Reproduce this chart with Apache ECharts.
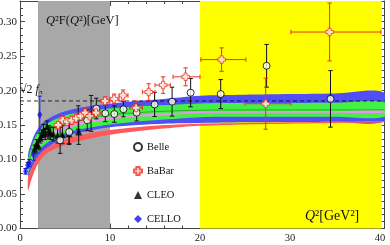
<!DOCTYPE html>
<html><head><meta charset="utf-8">
<script src="https://cdn.jsdelivr.net/npm/echarts@6/dist/echarts.min.js"></script>
<style>html,body{margin:0;padding:0;background:#fff}#c{width:390px;height:245px}</style>
</head><body><div id="c"></div>
<script>
// ---- axis setup ----
const xMin = 0, xMax = 40.5, yMin = 0, yMax = 0.33;
const grayRegion = [2, 10];
const yellowRegion = [20, 40.2];
const fpiLine = 0.185;

// ---- theory bands ----
const bandQ2   = [0.9, 1.2, 1.6, 2, 2.5, 3, 4, 5, 6, 8, 10, 13, 16, 20, 25, 30, 35, 40.5];
const blueHi   = [0.108,0.122,0.136,0.145,0.153,0.158,0.165,0.170,0.1735,0.178,0.181,0.185,0.188,0.1925,0.194,0.195,0.196,0.197];
const blueLo   = [0.075,0.085,0.095,0.103,0.111,0.117,0.126,0.132,0.137,0.143,0.147,0.150,0.152,0.153,0.154,0.1545,0.155,0.1558];
const redHi    = [0.075,0.085,0.097,0.105,0.112,0.117,0.124,0.129,0.133,0.139,0.143,0.147,0.150,0.152,0.153,0.154,0.155,0.156];
const redLo    = [0.055,0.068,0.083,0.094,0.103,0.109,0.116,0.121,0.125,0.131,0.136,0.141,0.145,0.149,0.151,0.152,0.153,0.154];
const greenHi  = [0.100,0.115,0.130,0.139,0.147,0.152,0.159,0.164,0.167,0.171,0.174,0.177,0.179,0.1815,0.182,0.1822,0.1825,0.183];
const greenLo  = [0.080,0.092,0.103,0.111,0.119,0.124,0.132,0.138,0.142,0.147,0.151,0.155,0.158,0.1615,0.162,0.162,0.162,0.162];
const pinkHi   = [0.090,0.102,0.114,0.122,0.130,0.135,0.143,0.149,0.153,0.158,0.162,0.165,0.167,0.1698,0.170,0.1703,0.1705,0.171];
const pinkLo   = [0.085,0.097,0.109,0.117,0.125,0.130,0.138,0.144,0.148,0.154,0.158,0.162,0.164,0.1675,0.168,0.168,0.168,0.168];
const midLine  = [0.094,0.106,0.118,0.126,0.134,0.139,0.147,0.152,0.156,0.161,0.165,0.168,0.170,0.1715,0.172,0.172,0.172,0.1722];

// ---- data: Belle ----
const belleQ2  = [4.46, 5.47, 6.47, 7.47, 8.48, 9.48, 10.48, 11.49, 12.96, 14.96, 16.9, 18.96, 22.3, 27.4, 34.5];
const belleF   = [0.128, 0.140, 0.161, 0.157, 0.174, 0.167, 0.166, 0.173, 0.168, 0.180, 0.184, 0.197, 0.195, 0.236, 0.188];
const belleErr = [0.019, 0.017, 0.017, 0.015, 0.015, 0.012, 0.012, 0.011, 0.012, 0.0175, 0.021, 0.0205, 0.021, 0.031, 0.041];

// ---- data: BaBar ----
const babarQ2   = [4.24, 4.74, 5.24, 5.74, 6.24, 6.74, 7.24, 7.74, 8.45, 9.45, 10.45, 11.45, 12.9, 14.3, 15.9, 18.4, 22.4, 27.3, 34.4];
const babarF    = [0.150, 0.157, 0.155, 0.157, 0.160, 0.163, 0.168, 0.163, 0.168, 0.185, 0.188, 0.193, 0.175, 0.198, 0.208, 0.220, 0.245, 0.181, 0.285];
const babarErr  = [0.005, 0.005, 0.005, 0.006, 0.006, 0.006, 0.006, 0.007, 0.006, 0.006, 0.007, 0.008, 0.010, 0.012, 0.012, 0.013, 0.017, 0.037, 0.042];
const babarQ2Lo = [4.0, 4.5, 5.0, 5.5, 6.0, 6.5, 7.0, 7.5, 8.0, 9.0, 10.0, 11.0, 12.2, 13.6, 15.0, 17.0, 20.1, 25.0, 30.1];
const babarQ2Hi = [4.5, 5.0, 5.5, 6.0, 6.5, 7.0, 7.5, 8.0, 9.0, 10.0, 11.0, 12.0, 13.6, 15.0, 16.7, 20.0, 25.1, 30.1, 40.1];

// ---- data: CLEO ----
const cleoQ2  = [1.64, 1.84, 2.03, 2.23, 2.42, 2.62, 2.81, 3.01, 3.21, 3.41, 3.70, 4.18, 4.71, 5.45, 6.52, 7.90];
const cleoF   = [0.115, 0.123, 0.120, 0.131, 0.136, 0.143, 0.137, 0.148, 0.140, 0.138, 0.137, 0.135, 0.136, 0.137, 0.140, 0.167];
const cleoErr = [0.006, 0.006, 0.006, 0.007, 0.007, 0.008, 0.008, 0.008, 0.009, 0.009, 0.010, 0.011, 0.013, 0.015, 0.018, 0.026];

// ---- data: CELLO ----
const celloQ2  = [0.62, 0.85, 1.05, 1.5, 2.2];
const celloF   = [0.083, 0.092, 0.095, 0.107, 0.165];
const celloErr = [0.004, 0.004, 0.005, 0.008, 0.027];

// ---- tick spacing ----
const xMajor = 10, xMinor = 2, yMajor = 0.05, yMinor = 0.01;

const SERIF = '"Liberation Serif","DejaVu Serif",serif';
const AX = '#444';

function bandSeries(hi, lo, color, z) {
  return {
    type: 'custom', coordinateSystem: 'cartesian2d', silent: true, z: z, clip: true,
    data: [[bandQ2[0], lo[0]]],
    renderItem: function (params, api) {
      const pts = [];
      for (let i = 0; i < bandQ2.length; i++) pts.push(api.coord([bandQ2[i], hi[i]]));
      for (let i = bandQ2.length - 1; i >= 0; i--) pts.push(api.coord([bandQ2[i], lo[i]]));
      return { type: 'polygon', shape: { points: pts, smooth: 0.3 }, style: { fill: color } };
    }
  };
}

function errSeries(q2, f, err, xlo, xhi, color, z) {
  const data = q2.map((q, i) => [q, f[i], f[i] - err[i], f[i] + err[i], xlo ? xlo[i] : q, xhi ? xhi[i] : q]);
  return {
    type: 'custom', coordinateSystem: 'cartesian2d', silent: true, z: z, clip: true,
    data: data,
    renderItem: function (params, api) {
      const x = api.value(0), y = api.value(1), lo = api.value(2), hi = api.value(3), xl = api.value(4), xh = api.value(5);
      const a = api.coord([x, lo]), b = api.coord([x, hi]);
      const c = 2.2;
      const st = { stroke: color, lineWidth: 1, fill: null };
      const ch = [
        { type: 'line', shape: { x1: a[0], y1: a[1], x2: b[0], y2: b[1] }, style: st },
        { type: 'line', shape: { x1: a[0] - c, y1: a[1], x2: a[0] + c, y2: a[1] }, style: st },
        { type: 'line', shape: { x1: b[0] - c, y1: b[1], x2: b[0] + c, y2: b[1] }, style: st }
      ];
      if (xh > xl) {
        const p = api.coord([xl, y]), q = api.coord([xh, y]);
        ch.push({ type: 'line', shape: { x1: p[0], y1: p[1], x2: q[0], y2: q[1] }, style: st });
        ch.push({ type: 'line', shape: { x1: p[0], y1: p[1] - c, x2: p[0], y2: p[1] + c }, style: st });
        ch.push({ type: 'line', shape: { x1: q[0], y1: q[1] - c, x2: q[0], y2: q[1] + c }, style: st });
      }
      return { type: 'group', children: ch };
    }
  };
}

function xAx(pos, interval, len, showLine, showLabel) {
  return {
    type: 'value', position: pos, min: xMin, max: xMax, interval: interval,
    axisLine: { show: showLine, onZero: false, lineStyle: { color: AX, width: 1 } },
    axisTick: { show: true, inside: true, length: len, lineStyle: { color: AX } },
    splitLine: { show: false },
    axisLabel: { show: showLabel, showMaxLabel: false, margin: 4, fontFamily: SERIF, fontSize: 10.5, color: '#222' }
  };
}
function yAx(pos, interval, len, showLine, showLabel) {
  return {
    type: 'value', position: pos, min: yMin, max: yMax, interval: interval,
    axisLine: { show: showLine, onZero: false, lineStyle: { color: AX, width: 1 } },
    axisTick: { show: true, inside: true, length: len, lineStyle: { color: AX } },
    splitLine: { show: false },
    axisLabel: { show: showLabel, showMaxLabel: false, margin: 3, fontFamily: SERIF, fontSize: 11, color: '#222',
                 formatter: v => v.toFixed(2) }
  };
}

const crossPath = 'path://M3,0H7V3H10V7H7V10H3V7H0V3H3Z';

const chart = echarts.init(document.getElementById('c'), null, { renderer: 'canvas' });
chart.setOption({
  animation: false,
  backgroundColor: '#fff',
  grid: { left: 20, right: 5.5, top: 1, bottom: 16.5, containLabel: false, outerBoundsMode: 'none' },
  xAxis: [ xAx('bottom', xMajor, 5, true, true), xAx('bottom', xMinor, 3, false, false),
           xAx('top', xMajor, 5, true, false), xAx('top', xMinor, 3, false, false) ],
  yAxis: [ yAx('left', yMajor, 5, true, true), yAx('left', yMinor, 3, false, false),
           yAx('right', yMajor, 5, true, false), yAx('right', yMinor, 3, false, false) ],
  legend: {
    data: ['Belle', 'BaBar', 'CLEO', 'CELLO'],
    orient: 'vertical', left: 133, top: 141.5, padding: 0, itemGap: 13, itemWidth: 8, itemHeight: 8,
    textStyle: { fontFamily: SERIF, fontSize: 10.5, color: '#111' }, selectedMode: false
  },
  series: [
    {
      type: 'custom', coordinateSystem: 'cartesian2d', silent: true, z: 1,
      data: [[grayRegion[0], grayRegion[1], 0], [yellowRegion[0], yellowRegion[1], 1]],
      renderItem: function (params, api) {
        const a = api.coord([api.value(0), yMax]), b = api.coord([api.value(1), yMin]);
        return { type: 'rect', shape: { x: a[0], y: a[1], width: b[0] - a[0], height: b[1] - a[1] },
                 style: { fill: api.value(2) ? '#ffff00' : '#a8a8a8' } };
      }
    },
    bandSeries(blueHi, blueLo, '#4f4ff5', 2),
    bandSeries(redHi, redLo, '#ff5a5a', 2),
    bandSeries(greenHi, greenLo, '#45f045', 2),
    bandSeries(pinkHi, pinkLo, '#ef8fef', 2),
    { type: 'line', z: 3, silent: true, symbol: 'none', smooth: true, data: bandQ2.map((q, i) => [q, midLine[i]]),
      lineStyle: { color: '#1f7a1f', width: 0.6 } },
    { type: 'line', z: 4, silent: true, symbol: 'none', data: [[xMin, fpiLine], [xMax, fpiLine]],
      lineStyle: { color: '#000', width: 0.8, type: [4, 3] } },
    errSeries(cleoQ2, cleoF, cleoErr, null, null, '#111', 5),
    errSeries(celloQ2, celloF, celloErr, null, null, '#1a1aee', 5),
    errSeries(belleQ2, belleF, belleErr, null, null, '#111', 5),
    errSeries(babarQ2, babarF, babarErr, babarQ2Lo, babarQ2Hi, '#f0321e', 5),
    { name: 'CLEO', type: 'scatter', z: 6, symbol: 'triangle', symbolSize: 7, data: cleoQ2.map((q, i) => [q, cleoF[i]]),
      itemStyle: { color: '#000' } },
    { name: 'CELLO', type: 'scatter', z: 6, symbol: 'diamond', symbolSize: [5, 8], data: celloQ2.map((q, i) => [q, celloF[i]]),
      itemStyle: { color: '#1212e8' } },
    { name: 'Belle', type: 'scatter', z: 6, symbol: 'circle', symbolSize: 7, data: belleQ2.map((q, i) => [q, belleF[i]]),
      itemStyle: { color: '#fff', borderColor: '#000', borderWidth: 1 } },
    { name: 'BaBar', type: 'scatter', z: 6, symbol: crossPath, symbolSize: 7.5, data: babarQ2.map((q, i) => [q, babarF[i]]),
      itemStyle: { color: '#fff', borderColor: '#f0321e', borderWidth: 1 } }
  ],
  graphic: [
    { type: 'text', left: 46, top: 14, z: 100,
      style: { text: '{i|Q}²F({i|Q}²)[GeV]', font: '12.5px ' + SERIF, fill: '#111',
               rich: { i: { fontStyle: 'italic', fontFamily: SERIF, fontSize: 12.5 } } } },
    { type: 'text', left: 305, top: 209, z: 100,
      style: { text: '{i|Q}²[GeV²]', font: '14px ' + SERIF, fill: '#111',
               rich: { i: { fontStyle: 'italic', fontFamily: SERIF, fontSize: 14 } } } },
    { type: 'text', left: 20, top: 84, z: 100,
      style: { text: '√2 {i|f}{s|π}', font: '12px ' + SERIF, fill: '#111',
               rich: { i: { fontStyle: 'italic', fontFamily: SERIF, fontSize: 12 },
                       s: { fontStyle: 'italic', fontFamily: SERIF, fontSize: 7, verticalAlign: 'bottom', padding: [5, 0, 0, 0] } } } }
  ]
});
</script></body></html>
